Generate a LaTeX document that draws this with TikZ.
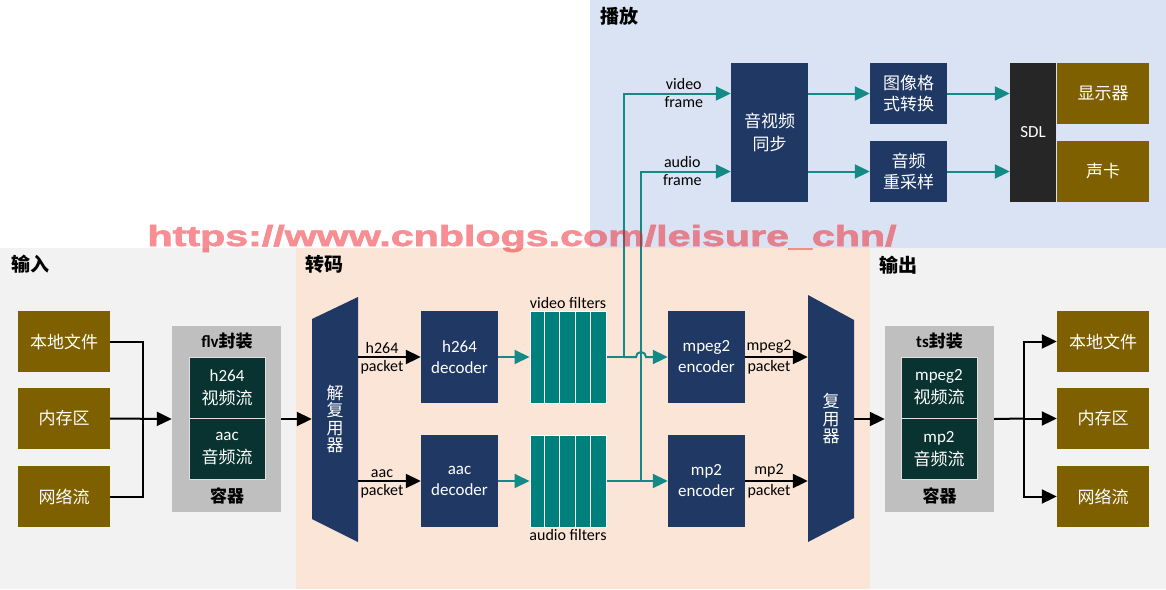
\documentclass[tikz,border=0pt]{standalone}
\usepackage{fontspec}
\setmainfont{Carlito}
\newfontfamily\cjk{Noto Sans CJK SC}
\newfontfamily\wmfont{Liberation Sans Bold}[FakeBold=2]
\usetikzlibrary{arrows.meta,positioning}
\definecolor{playbg}{HTML}{DAE3F3}
\definecolor{iobg}{HTML}{F2F2F2}
\definecolor{codebg}{HTML}{FBE5D6}
\definecolor{brownc}{HTML}{7F6000}
\definecolor{navyc}{HTML}{1F3864}
\definecolor{ctnc}{HTML}{BFBFBF}
\definecolor{deepc}{HTML}{083330}
\definecolor{filtc}{HTML}{00807D}
\definecolor{tealc}{HTML}{138A85}
\definecolor{sdlc}{HTML}{262626}
\definecolor{wmc}{RGB}{240,30,40}
\begin{document}
\begin{tikzpicture}[x=1pt,y=-1pt,
    srcbox/.style={fill=brownc,text=white,minimum width=92pt,minimum height=61pt,inner sep=0pt,font=\cjk\fontsize{17}{20}\selectfont},
    blk/.style={fill=navyc,text=white,align=center,minimum width=77pt,minimum height=92pt,inner sep=0pt,font=\fontsize{17}{21}\selectfont},
    stream/.style={fill=deepc,draw=ctnc!50!white,line width=0.5pt,text=white,align=center,minimum width=76pt,minimum height=61pt,inner sep=0pt,font=\fontsize{17}{23}\selectfont},
    ctnbox/.style={fill=ctnc,minimum width=109pt,minimum height=186pt,inner sep=0pt},
    ctnlbl/.style={font=\bfseries\fontsize{17}{18}\selectfont,inner sep=0pt},
    filt/.style={fill=filtc,draw=white,line width=1pt,minimum width=76pt,minimum height=92pt,inner sep=0pt},
    mux/.style={minimum width=46pt,inner sep=0pt,text=white,align=center,font=\cjk\fontsize{17}{17.5}\selectfont},
    head/.style={anchor=west,inner sep=0pt,font=\cjk\bfseries\fontsize{19}{22}\selectfont},
    lbl/.style={inner sep=2.5pt,font=\fontsize{16}{17}\selectfont},
    tline/.style={draw=tealc,line width=2pt},
    tarr/.style={tline,-{Triangle[length=15pt,width=14pt]}},
    bline/.style={line width=2pt},
    barr/.style={bline,-{Triangle[length=15pt,width=14pt]}}]
\useasboundingbox (0,0) rectangle (1166,589);
% panels
\fill[playbg] (590,0) rectangle (1166,248);
\fill[iobg] (0,248) rectangle (296,589);
\fill[codebg] (296,248) rectangle (870,589);
\fill[iobg] (870,248) rectangle (1166,589);
\node[head] (hplay) at (600,16) {播放};
\node[head] (hin) at (11,264) {输入};
\node[head] (hcode) at (305,264) {转码};
\node[head] (hout) at (879,265) {输出};

% input
\node[srcbox] (in1) at (64,341.5) {本地文件};
\node[srcbox] (in2) at (64,418.5) {内存区};
\node[srcbox] (in3) at (64,496.5) {网络流};
\node[ctnbox] (flv) at (226.5,419) {};
\node[ctnlbl] (flvt) at (227,341) {flv{\cjk 封装}};
\node[stream] (flvv) at (227,387.5) {h264\\{\cjk 视频流}};
\node[stream] (flva) at (227,449) {aac\\{\cjk 音频流}};
\node[ctnlbl,font=\cjk\bfseries\fontsize{17}{18}\selectfont] (flvc) at (227,496) {容器};
\coordinate (jin) at (143,418.5);
\draw[bline] (in1.east) -| (jin) |- (in3.east);
\draw[barr] (in2.east) -- (flv.west);

% transcode
\fill[navyc] (312,319) -- (358,297) -- (358,542) -- (312,519) -- cycle;
\node[mux] (demux) at (335,419) {解\\复\\用\\器};
\draw[barr] (flv.east) -- (demux.west);
\node[blk] (dech) at (459.5,357) {h264\\decoder};
\node[blk] (deca) at (459.5,481) {aac\\decoder};
\draw[barr] (demux.east |- dech.west) -- (dech.west) node[lbl,pos=0.38,above]{h264} node[lbl,pos=0.38,below]{packet};
\draw[barr] (demux.east |- deca.west) -- (deca.west) node[lbl,pos=0.38,above]{aac} node[lbl,pos=0.38,below]{packet};
\node[filt] (vf) at (568,357) {};
\node[filt] (af) at (568,481) {};
\foreach \f in {vf,af}
  \foreach \i in {1,...,4}
    \draw[white,line width=1pt] ([xshift=\i*15.2pt]\f.north west) -- ([xshift=\i*15.2pt]\f.south west);
\node[lbl,above=-1pt of vf] (vft) {video filters};
\node[lbl,below=-1pt of af] (aft) {audio filters};
\draw[tarr] (dech.east) -- (vf.west);
\draw[tarr] (deca.east) -- (af.west);
\node[blk] (enc1) at (706.5,357) {mpeg2\\encoder};
\node[blk] (enc2) at (706.5,481) {mp2\\encoder};
\fill[navyc] (808,295) -- (854,320) -- (854,518) -- (808,542) -- cycle;
\node[mux] (mux) at (831,419) {复\\用\\器};
\draw[barr] (enc1.east) -- (mux.west |- enc1.east) node[lbl,pos=0.38,above]{mpeg2} node[lbl,pos=0.38,below]{packet};
\draw[barr] (enc2.east) -- (mux.west |- enc2.east) node[lbl,pos=0.38,above]{mp2} node[lbl,pos=0.38,below]{packet};

% play
\node[blk,minimum height=139pt,font=\cjk\fontsize{17}{23}\selectfont] (sync) at (769.5,132.5) {音视频\\同步};
\node[blk,minimum height=61pt,font=\cjk\fontsize{17}{21}\selectfont] (conv) at (908.5,93.5) {图像格\\式转换};
\node[blk,minimum height=61pt,font=\cjk\fontsize{17}{21}\selectfont] (resamp) at (908.5,171.5) {音频\\重采样};
\node[fill=sdlc,text=white,minimum width=46pt,minimum height=139pt,inner sep=0pt,font=\fontsize{17}{18}\selectfont] (sdl) at (1033,132.5) {SDL};
\node[srcbox] (disp) at (1103,93.5) {显示器};
\node[srcbox] (snd) at (1103,171.5) {声卡};
\coordinate (jv) at (624,357);
\coordinate (ja) at (641,481);
\draw[tline] (vf.east) -- (jv);
\draw[tarr] (jv) -- ++(12,0) arc[start angle=180,end angle=0,radius=5pt] -- (enc1.west);
\draw[tarr] (jv) |- (sync.west |- conv.west) node[lbl,pos=0.78,above]{video} node[lbl,pos=0.78,below]{frame};
\draw[tline] (af.east) -- (ja);
\draw[tarr] (ja) -- (enc2.west);
\draw[tarr] (ja) |- (sync.west |- resamp.west) node[lbl,pos=0.73,above]{audio} node[lbl,pos=0.73,below]{frame};
\draw[tarr] (sync.east |- conv.west) -- (conv.west);
\draw[tarr] (sync.east |- resamp.west) -- (resamp.west);
\draw[tarr] (conv.east) -- (sdl.west |- conv.east);
\draw[tarr] (resamp.east) -- (sdl.west |- resamp.east);

% output
\node[ctnbox] (ts) at (939.5,419) {};
\node[ctnlbl] (tst) at (939.5,341) {ts{\cjk 封装}};
\node[stream] (tsv) at (939,387.5) {mpeg2\\{\cjk 视频流}};
\node[stream] (tsa) at (939,449) {mp2\\{\cjk 音频流}};
\node[ctnlbl,font=\cjk\bfseries\fontsize{17}{18}\selectfont] (tsc) at (939.5,496) {容器};
\draw[barr] (mux.east) -- (ts.west);
\node[srcbox] (out1) at (1103,341.5) {本地文件};
\node[srcbox] (out2) at (1103,418.5) {内存区};
\node[srcbox] (out3) at (1103,496.5) {网络流};
\coordinate (jout) at (1024,418.5);
\draw[bline] (ts.east) -- (jout);
\draw[barr] (jout) |- (out1.west);
\draw[barr] (jout) -- (out2.west);
\draw[barr] (jout) |- (out3.west);

% watermark
\begin{scope}[transparency group,opacity=0.5]
\node[anchor=base,inner sep=0pt,text=wmc,font=\wmfont\fontsize{29}{30}\selectfont] (wmark) at (522,246) {\scalebox{1.42}[1]{https://www.cnblogs.com/leisure\_chn/}};
\end{scope}
\end{tikzpicture}
\end{document}
